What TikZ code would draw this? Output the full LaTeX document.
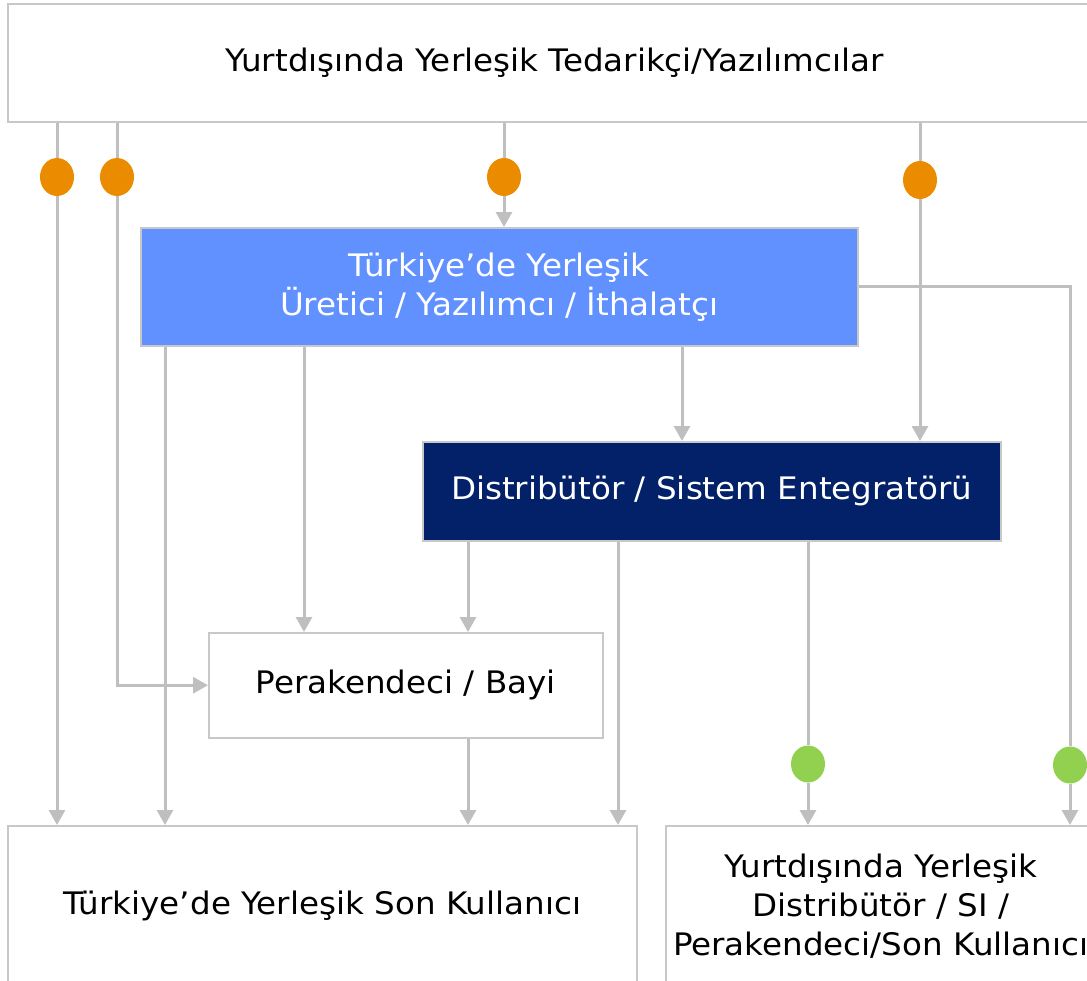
\documentclass[tikz,border=0pt]{standalone}
\usepackage{fontspec}
\setmainfont{DejaVu Sans}[FakeStretch = 1.05]
\usetikzlibrary{arrows.meta}
\usetikzlibrary{shapes.geometric}
\definecolor{boxgray}{HTML}{C8C8C8}
\definecolor{linkgray}{HTML}{BFBFBF}
\definecolor{makerblue}{HTML}{6190FF}
\definecolor{navy}{HTML}{022169}
\definecolor{dotorange}{HTML}{EB8C00}
\definecolor{dotgreen}{HTML}{92D050}
\tikzset{box/.style = {draw = boxgray, line width = 1.5pt, inner sep = 0, align = center, anchor = north west}}
\tikzset{link/.style = {draw = linkgray, line width = 3pt, -{Triangle[width = 16pt, length = 15pt]}}}
\tikzset{orangedot/.style = {ellipse, fill = dotorange, inner sep = 0, minimum width = 34, minimum height = 38}}
\tikzset{greendot/.style = {ellipse, fill = dotgreen, inner sep = 0, minimum width = 34, minimum height = 37}}

\begin{document}
\begin{tikzpicture}[x = 1pt, y = -1pt, font = \fontsize{31}{39}\selectfont]
    \useasboundingbox (0, 0) rectangle (1087, 980);
    \node [box, minimum width = 1093, minimum height = 118] (supplier) at (7, 3) {Yurtdışında Yerleşik Tedarikçi/Yazılımcılar};
    \node [box, fill = makerblue, text = white, minimum width = 717, minimum height = 118] (maker) at (140, 227) {Türkiye’de Yerleşik\\Üretici / Yazılımcı / İthalatçı};
    \node [box, fill = navy, text = white, minimum width = 578, minimum height = 99] (distrib) at (422, 441) {Distribütör / Sistem Entegratörü};
    \node [box, minimum width = 394, minimum height = 105] (retail) at (208, 632) {Perakendeci / Bayi};
    \node [box, minimum width = 629, minimum height = 160] (localuser) at (7, 825) {Türkiye’de Yerleşik Son Kullanıcı};
    \node [box, minimum width = 430, minimum height = 160] (foreign) at (665, 825) {Yurtdışında Yerleşik\\Distribütör / SI /\\Perakendeci/Son Kullanıcı};
    \node [orangedot] (oA) at (57, 177) {};
    \node [orangedot] (oB) at (117, 177) {};
    \node [orangedot] (oC) at (504, 177) {};
    \node [orangedot] (oD) at (920, 180) {};
    \node [greendot] (gA) at (808, 764) {};
    \node [greendot] (gB) at (1070, 765) {};
    \coordinate (c1) at (165, 0);
    \coordinate (c2) at (304, 0);
    \coordinate (c3) at (468, 0);
    \coordinate (c4) at (618, 0);
    \coordinate (c5) at (682, 0);
    \draw [link] (supplier.south -| oA) -- (oA) -- (localuser.north -| oA);
    \draw [link] (supplier.south -| oB) -- (oB) -- (oB |- retail.west) -- (retail.west);
    \draw [link] (supplier.south -| oC) -- (oC) -- (maker.north -| oC);
    \draw [link] (supplier.south -| oD) -- (oD) -- (distrib.north -| oD);
    \draw [link] (maker.south -| c1) -- (localuser.north -| c1);
    \draw [link] (maker.south -| c2) -- (retail.north -| c2);
    \draw [link] (maker.south -| c5) -- (distrib.north -| c5);
    \draw [link] (maker.east) -- (maker.east -| gB) -- (gB) -- (foreign.north -| gB);
    \draw [link] (distrib.south -| c3) -- (retail.north -| c3);
    \draw [link] (distrib.south -| c4) -- (localuser.north -| c4);
    \draw [link] (distrib.south -| gA) -- (gA) -- (foreign.north -| gA);
    \draw [link] (retail.south -| c3) -- (localuser.north -| c3);
\end{tikzpicture}
\end{document}
